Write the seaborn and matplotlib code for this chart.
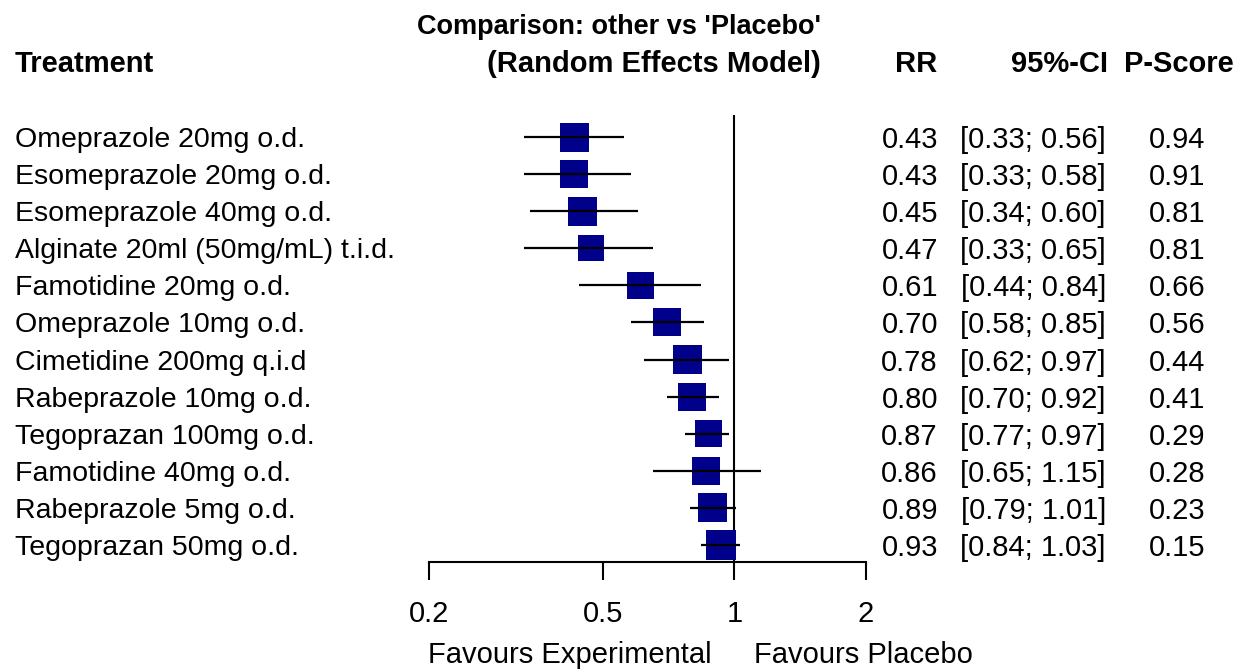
import numpy as np
import matplotlib
matplotlib.use("Agg")
import matplotlib.pyplot as plt
import seaborn as sns

# forest plot data
treatments = ["Omeprazole 20mg o.d.", "Esomeprazole 20mg o.d.", "Esomeprazole 40mg o.d.",
              "Alginate 20ml (50mg/mL) t.i.d.", "Famotidine 20mg o.d.", "Omeprazole 10mg o.d.",
              "Cimetidine 200mg q.i.d", "Rabeprazole 10mg o.d.", "Tegoprazan 100mg o.d.",
              "Famotidine 40mg o.d.", "Rabeprazole 5mg o.d.", "Tegoprazan 50mg o.d."]
rr = [0.43, 0.43, 0.45, 0.47, 0.61, 0.70, 0.78, 0.80, 0.87, 0.86, 0.89, 0.93]
ci_lo = [0.33, 0.33, 0.34, 0.33, 0.44, 0.58, 0.62, 0.70, 0.77, 0.65, 0.79, 0.84]
ci_hi = [0.56, 0.58, 0.60, 0.65, 0.84, 0.85, 0.97, 0.92, 0.97, 1.15, 1.01, 1.03]
pscore = [0.94, 0.91, 0.81, 0.81, 0.66, 0.56, 0.44, 0.41, 0.29, 0.28, 0.23, 0.15]
square_px = [29, 28, 29, 26, 27, 28, 29, 28, 27, 28, 29, 30]
xticks = [0.2, 0.5, 1, 2]

W, H = 1241, 672
DPI = 100

sns.set_theme(style="white")
plt.rcParams["font.family"] = ["Liberation Sans", "DejaVu Sans"]
plt.rcParams["text.color"] = "black"

fig = plt.figure(figsize=(W / DPI, H / DPI), dpi=DPI)

def fx(px):
    return px / W

def fy(py):
    return 1 - py / H

# axes placed so that row 0 sits at 137px and rows step 37.1px
row0, step = 137, 37.09
ax_top, ax_bot = 115, 562
ax = fig.add_axes([fx(429), fy(ax_bot), fx(866) - fx(429), (ax_bot - ax_top) / H])
rows = np.arange(len(treatments))
ax.set_xscale("log")
ax.set_xlim(0.2, 2)
ax.set_ylim((ax_bot - row0) / step, (ax_top - row0) / step)

ax.axvline(1, color="black", lw=1.5, zorder=1)
ax.hlines(rows, ci_lo, ci_hi, color="black", lw=1.6, zorder=3)
sizes = [(p * 72 / DPI) ** 2 for p in square_px]
sns.scatterplot(x=rr, y=rows, marker="s", s=sizes, color="#00008B",
                linewidth=0, ax=ax, zorder=2, legend=False)

for side in ["top", "right", "left"]:
    ax.spines[side].set_visible(False)
ax.spines["bottom"].set_linewidth(1.5)
ax.spines["bottom"].set_color("black")
ax.set_xticks(xticks)
ax.set_xticklabels(["0.2", "0.5", "1", "2"])
ax.xaxis.set_minor_locator(matplotlib.ticker.NullLocator())
ax.tick_params(axis="x", bottom=True, direction="out", length=13, width=1.5,
               labelsize=21, pad=14, color="black", labelcolor="black")
ax.set_yticks([])
ax.set_xlabel("")
ax.set_ylabel("")
ax.patch.set_alpha(0)

fs = 20.5
hs = 21
# headers
fig.text(fx(15), fy(64), "Treatment", ha="left", va="center", fontsize=hs, fontweight="bold")
fig.text(fx(821), fy(27), "Comparison: other vs 'Placebo'", ha="right", va="center",
         fontsize=19.5, fontweight="bold")
fig.text(fx(821), fy(64), "(Random Effects Model)", ha="right", va="center",
         fontsize=hs, fontweight="bold")
fig.text(fx(937), fy(64), "RR", ha="right", va="center", fontsize=hs, fontweight="bold")
fig.text(fx(1108), fy(64), "95%-CI", ha="right", va="center", fontsize=hs, fontweight="bold")
fig.text(fx(1234), fy(64), "P-Score", ha="right", va="center", fontsize=hs, fontweight="bold")

# table rows
for i, name in enumerate(treatments):
    y = fy(row0 + i * step)
    fig.text(fx(15), y, name, ha="left", va="center_baseline", fontsize=fs)
    fig.text(fx(938), y, f"{rr[i]:.2f}", ha="right", va="center_baseline", fontsize=21)
    fig.text(fx(1106), y, f"[{ci_lo[i]:.2f}; {ci_hi[i]:.2f}]", ha="right",
             va="center_baseline", fontsize=21)
    fig.text(fx(1205), y, f"{pscore[i]:.2f}", ha="right", va="center_baseline", fontsize=21)

fig.text(fx(570), fy(655), "Favours Experimental", ha="center", va="center", fontsize=21)
fig.text(fx(863), fy(655), "Favours Placebo", ha="center", va="center", fontsize=21)

fig.savefig("out.png", dpi=DPI)
